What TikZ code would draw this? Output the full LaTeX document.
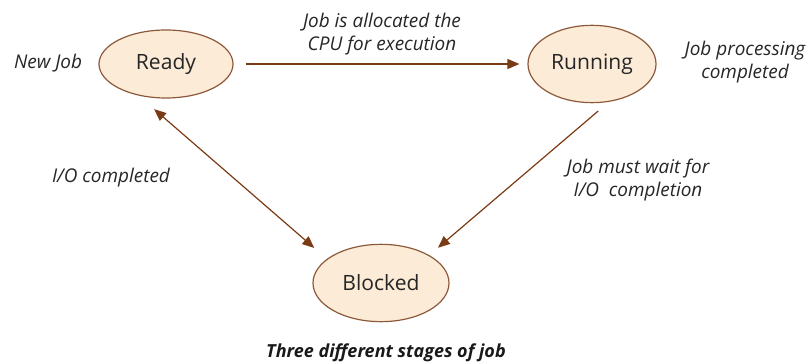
\documentclass[tikz,border=0pt]{standalone}
\usepackage{fontspec}
\setmainfont{Open Sans}
\usetikzlibrary{shapes.geometric,arrows.meta}
\definecolor{statefill}{HTML}{FCEBD7}
\definecolor{stateline}{HTML}{8C5A3A}
\definecolor{arrowcol}{HTML}{7A3A14}
\tikzset{
  state/.style={ellipse, draw=stateline, line width=0.9pt, fill=statefill, inner sep=0pt,
    font=\fontsize{15.8pt}{18pt}\selectfont, text=black!85},
  lbl/.style={font=\fontsize{14.2pt}{16.8pt}\selectfont\itshape, align=center, text=black!85, inner sep=0pt},
  conn/.style={draw=arrowcol, line width=0.9pt, -{Triangle[length=9pt,width=7.5pt]}},
  conn2/.style={draw=arrowcol, line width=0.9pt, {Triangle[length=9pt,width=7.5pt]}-{Triangle[length=9pt,width=7.5pt]}}
}
\begin{document}
\begin{tikzpicture}[x=0.75pt,y=-0.75pt]
\useasboundingbox (0,0) rectangle (810,363);
\node[state, minimum width=100.5pt, minimum height=51pt] (ready) at (166,64) {Ready};
\node[state, minimum width=96pt, minimum height=58pt] (running) at (592,64) {Running};
\node[state, minimum width=102pt, minimum height=58pt] (blocked) at (381,283) {Blocked};

\node[lbl] (newjob) at (48,63) {New Job};
\node[lbl] (alloc) at (382,34) {Job is allocated the\\CPU for execution};
\node[lbl] (done) at (745,62) {Job processing\\completed};
\node[lbl] (iodone) at (111,178) {I/O completed};
\node[lbl] (wait) at (638,180) {Job must wait for\\I/O\ \ completion};
\node[font=\fontsize{13.5pt}{16pt}\selectfont\bfseries\itshape, text=black!90, inner sep=0pt] (title) at (386,353) {Three different stages of job};

\draw[conn, shorten <=9pt, shorten >=6pt] (ready) -- (running);
\draw[conn2, shorten <=15.5pt, shorten >=12.5pt] (ready.-131) -- (blocked.156);
\draw[conn, shorten <=10.5pt, shorten >=8.5pt] (running.-66) -- (blocked.30);
\end{tikzpicture}
\end{document}
